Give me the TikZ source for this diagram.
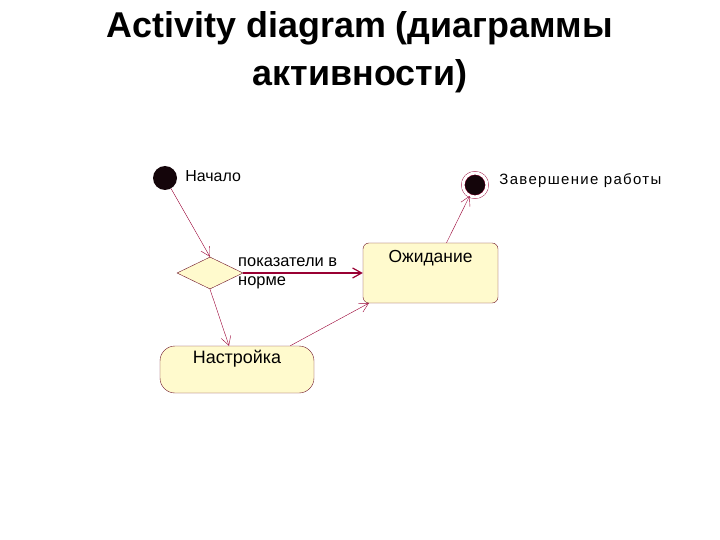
\documentclass[tikz,border=0pt]{standalone}
\usepackage{fontspec}
\setmainfont{Liberation Sans}
\usepackage{tikz}
\usetikzlibrary{shapes.geometric, arrows.meta, positioning}
\definecolor{roseLine}{RGB}{153, 0, 51}
\definecolor{roseBorder}{RGB}{110, 20, 40}
\definecolor{roseFill}{RGB}{255, 250, 205}
\definecolor{darkBlack}{RGB}{20, 5, 10}

\begin{document}
\begin{tikzpicture}[
    x=1bp, y=-1bp,
    node distance=8bp,
    heading/.style={font=\fontsize{36}{42}\selectfont\bfseries, anchor=base, inner sep=0pt},
    initial/.style={circle, fill=darkBlack, minimum size=24bp, inner sep=0pt},
    final/.style={circle, fill=darkBlack, draw=roseLine, double=white, double distance=3bp, minimum size=24bp, inner sep=0pt},
    choice/.style={diamond, draw=roseBorder, fill=roseFill, minimum width=66bp, minimum height=32bp, inner sep=0pt},
    waitbox/.style={rectangle, draw=roseBorder, fill=roseFill, rounded corners=6pt, minimum width=135bp, minimum height=60bp},
    actbox/.style={rectangle, draw=roseBorder, fill=roseFill, rounded corners=15bp, minimum width=154bp, minimum height=47bp},
    boxlbl/.style={font=\fontsize{17.5}{20}\selectfont, anchor=north},
    lbl/.style={font=\fontsize{16}{20}\selectfont, inner sep=0pt},
    flow/.style={-{Straight Barb[length=9bp, width=10bp]}, roseLine}
]
    \useasboundingbox (0,0) rectangle (720,540);

    % Title
    \node[heading] (title) at (360,38) {Activity diagram (диаграммы};
    \node[heading] (title2) at (360,86) {активности)};

    % Nodes
    \node[initial] (start) at (165,178) {};
    \node[lbl, right=of start, yshift=2bp] (startlbl) {Начало};

    \node[choice] (decision) at (210,273) {};
    \node[lbl, anchor=north west, align=left, font=\fontsize{16.5}{20}\selectfont] (decisionlbl) at (238,257) {показатели в\\норме};

    \node[waitbox, label={[boxlbl, inner sep=7bp]north:Ожидание}] (wait) at (430.5,273) {};

    \node[actbox, label={[boxlbl, inner sep=4bp, font=\fontsize{18}{20}\selectfont]north:Настройка}] (setup) at (237,369.5) {};

    \node[final] (finish) at (475,185) {};
    \node[lbl, right=12bp of finish, yshift=4bp, font=\fontsize{15}{20}\selectfont\addfontfeatures{LetterSpace=9}] (finishlbl) {Завершение работы};

    % Connections
    \draw[flow] (start) -- (decision.north);
    \draw[flow] (decision.south) -- ([xshift=-8bp]setup.north);
    \draw[flow, very thick] (decision.east) -- (wait.west);
    \draw[flow] ([xshift=-24bp]setup.north east) -- ([xshift=6bp]wait.south west);
    \draw[flow] ([xshift=16bp]wait.north) -- (finish);
\end{tikzpicture}
\end{document}
